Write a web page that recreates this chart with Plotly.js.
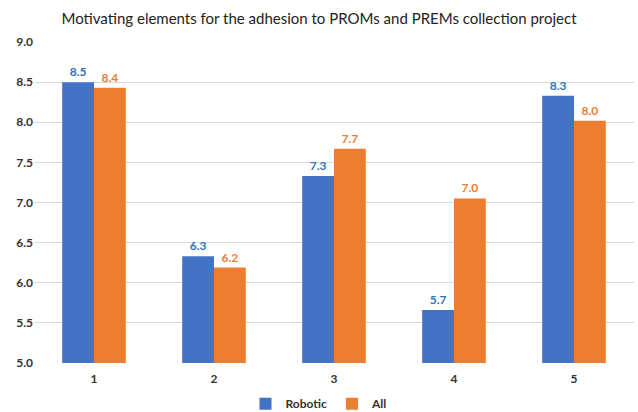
<!DOCTYPE html>
<html><head><meta charset="utf-8">
<script src="https://cdn.plot.ly/plotly-3.0.1.min.js"></script>
<style>html,body{margin:0;padding:0;background:#fff;}#chart{width:638px;height:412px;}</style>
</head><body><div id="chart"></div>
<script>
const categories = ["1", "2", "3", "4", "5"];
const robotic = [8.5, 6.33, 7.33, 5.66, 8.33];
const allResp = [8.43, 6.19, 7.67, 7.05, 8.02];
const yTicks = [5.0, 5.5, 6.0, 6.5, 7.0, 7.5, 8.0, 8.5, 9.0];

const blue = "#4472C4", orange = "#ED7D31";
const font = "Lato, 'Open Sans', sans-serif";

const traces = [
  {type: "bar", name: "Robotic", x: categories, y: robotic, marker: {color: blue},
   texttemplate: "%{y:.1f}", textposition: "outside", cliponaxis: false,
   textfont: {color: "#2E75B6", size: 12, family: font, weight: "bold"}, hoverinfo: "skip"},
  {type: "bar", name: "All", x: categories, y: allResp, marker: {color: orange},
   texttemplate: "%{y:.1f}", textposition: "outside", cliponaxis: false,
   textfont: {color: "#ED7D31", size: 12, family: font, weight: "bold"}, hoverinfo: "skip"}
];

const layout = {
  width: 638, height: 412,
  margin: {l: 34, r: 4, t: 42, b: 49},
  paper_bgcolor: "#fff", plot_bgcolor: "#fff",
  title: {text: "Motivating elements for the adhesion to PROMs and PREMs collection project",
          font: {family: font, size: 15, color: "#222"}, x: 0.5, xanchor: "center", y: 0.955, yanchor: "middle"},
  barmode: "group", bargap: 0.47, bargroupgap: 0,
  xaxis: {type: "category", showgrid: false, zeroline: false, showline: false, ticks: "",
          ticklabelstandoff: 7,
          tickfont: {family: font, size: 12, color: "#333", weight: "bold"}},
  yaxis: {range: [5, 9], tickvals: yTicks, ticktext: yTicks.map(v => v.toFixed(1)),
          showgrid: true, gridcolor: "#d9d9d9", gridwidth: 1, zeroline: false, showline: false,
          ticks: "", ticklen: 0, tickfont: {family: font, size: 12, color: "#333", weight: "bold"}},
  showlegend: true,
  legend: {orientation: "h", x: 0.5, xanchor: "center", xref: "container",
           y: 0.02, yanchor: "middle", yref: "container",
           font: {family: font, size: 12, color: "#333", weight: "bold"}, itemwidth: 30, traceorder: "normal"}
};

Plotly.newPlot("chart", traces, layout, {displayModeBar: false, staticPlot: true});
</script>
</body></html>
